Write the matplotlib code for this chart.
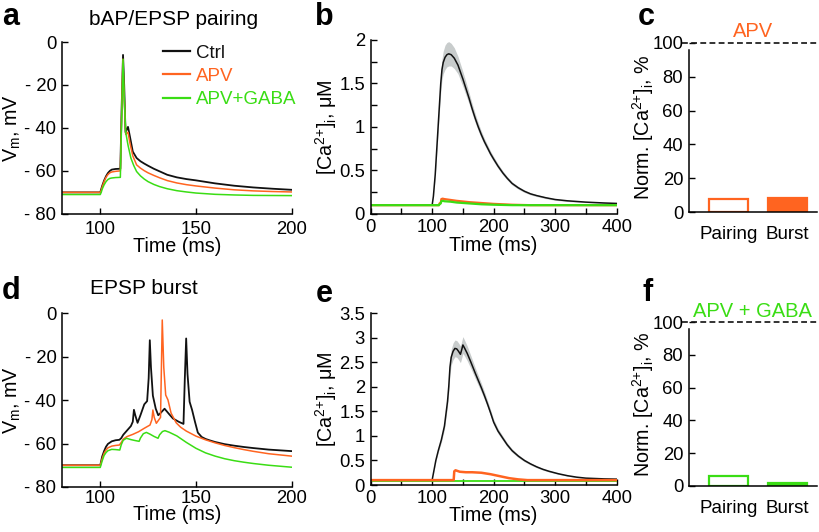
import matplotlib
matplotlib.use("Agg")
import matplotlib.pyplot as plt
from matplotlib.ticker import MultipleLocator
import numpy as np

plt.rcParams['font.family'] = ['Liberation Sans', 'DejaVu Sans']
plt.rcParams['mathtext.fontset'] = 'custom'
plt.rcParams['mathtext.rm'] = 'Liberation Sans'
plt.rcParams['mathtext.it'] = 'Liberation Sans:italic'

BLACK = '#111111'
ORANGE = '#FF6420'
GREEN = '#3ADD14'
SHADE = '#C8CCCC'

# ---- panel a: bAP/EPSP pairing, Vm (mV) ----
t_a_ctrl = [80, 100, 100.5, 101, 102, 103, 104, 105, 106, 108, 110.5, 111.2, 111.9, 112.5, 113.2, 114.5, 115.5, 117, 119,
            121, 123, 125, 128, 131, 135, 140, 145, 150, 160, 170, 180, 190, 200]
v_a_ctrl = [-70, -70, -68.5, -67, -64.5, -62.5, -61, -60, -59.4, -59.1, -59, -30, -6, -20, -42, -39.5, -44, -51, -54,
            -55.5, -56.6, -57.6, -59, -60.2, -61.8, -63, -63.8, -64.4, -65.8, -66.9, -67.7, -68.3, -68.8]
t_a_apv = [80, 100, 100.5, 101, 102, 103, 104, 105, 106, 108, 110.5, 111.2, 111.8, 112.5, 113.3, 114.5, 115.5, 117, 119,
           121, 123, 125, 128, 131, 135, 140, 145, 150, 160, 170, 180, 190, 200]
v_a_apv = [-70, -70, -69, -67.5, -65, -63, -61.7, -60.9, -60.5, -60.2, -60, -32, -8, -25, -43, -42, -47, -53, -57.2,
           -58.7, -59.9, -60.9, -62.1, -63.2, -64.5, -65.6, -66.4, -67, -68, -68.8, -69.3, -69.6, -69.8]
t_a_gaba = [80, 100, 100.5, 101, 102, 103, 104, 105, 106, 108, 110.5, 111.2, 111.9, 112.5, 113.3, 114.5, 116, 117.5, 119,
            121, 123, 125, 128, 131, 135, 140, 145, 150, 160, 170, 180, 200]
v_a_gaba = [-71, -71, -70, -68.5, -66.5, -65, -64, -63.5, -63.3, -63.1, -63, -35, -8, -25, -42, -48, -54, -57.5, -60.3,
            -62.3, -63.8, -65, -66.3, -67.3, -68.3, -69.2, -69.8, -70.3, -70.9, -71.2, -71.4, -71.5]

# ---- panel d: EPSP burst, Vm (mV) ----
t_d_ctrl = [80, 100, 100.5, 101, 102, 103, 104, 106, 108, 110, 111, 112, 114, 116, 117, 117.6, 118.3, 119.5, 121, 123,
            124.5, 125.3, 125.9, 126.5, 127.5, 129, 130.3, 131.5, 133.6, 136, 138, 141, 143.5, 144.2, 144.9, 145.6, 146.7,
            148, 149.5, 151, 153, 155, 157, 160, 165, 170, 175, 180, 188, 200]
v_d_ctrl = [-70, -70, -68, -66, -63.5, -61.5, -60.2, -59, -58.5, -58.3, -57.5, -56, -54, -52, -50, -44.5, -47, -50.5, -47, -42,
            -40.5, -30, -12.5, -25, -38, -44, -47, -46, -44, -46.5, -48.5, -50, -51, -30, -11.7, -28, -40.8,
            -44.6, -50, -55, -57, -57.9, -58.5, -59.3, -60.3, -61, -61.6, -62.1, -62.8, -63.5]
t_d_apv = [80, 100, 100.5, 101, 102, 103, 104, 106, 108, 110, 111, 112, 114, 117, 120, 123, 126, 127, 127.5, 128.2, 129.3,
           131.5, 132.4, 133.2, 134.2, 135.4, 137, 139.7, 142, 145, 150, 155, 160, 165, 170, 175, 180, 188, 200]
v_d_apv = [-70, -70, -68.5, -67, -64.5, -63, -62, -61.2, -60.9, -60.7, -59.5, -58, -56.8, -55.8, -54.6, -53, -51.5, -49, -44.6,
           -48, -50.7, -48, -3.2, -25, -37.7, -40, -46, -50.5, -52.5, -54.3, -56.6, -58.3, -59.7, -60.9, -61.9, -62.8,
           -63.6, -64.7, -65.8]
t_d_gaba = [80, 100, 100.5, 101, 102, 103, 104, 106, 108, 110.2, 111, 112, 113.7, 116, 118, 120.3, 121, 122.5, 124.1, 126,
            128, 130.2, 131, 132.5, 133.8, 136, 140, 145, 150, 155, 160, 165, 170, 175, 180, 188, 200]
v_d_gaba = [-71, -71, -69.5, -68, -65.5, -64.2, -63.3, -62.7, -62.8, -63, -60.5, -58.5, -57.6, -58.2, -58.6, -59, -57.5, -55.5,
            -54.9, -55.7, -56.7, -57.6, -56, -54.5, -54.1, -54.8, -56.5, -59.5, -62.2, -64.3, -65.8, -67, -67.9, -68.6,
            -69.2, -70, -70.9]

# ---- panel b: pairing [Ca2+]i (uM) ----
t_b_ctrl = [0, 100, 102, 105, 108, 111, 114, 116, 118, 121, 124, 127, 131, 136, 142, 150, 155, 160, 165, 170, 175, 180,
            185, 190, 195, 200, 207, 215, 222, 230, 240, 250, 260, 270, 285, 300, 320, 350, 380, 400]
c_b_ctrl = [0.1, 0.1, 0.2, 0.45, 0.8, 1.15, 1.5, 1.66, 1.74, 1.8, 1.83, 1.84, 1.83, 1.79, 1.71, 1.55, 1.44, 1.33, 1.21, 1.1,
            1.0, 0.91, 0.83, 0.76, 0.69, 0.63, 0.55, 0.47, 0.41, 0.35, 0.3, 0.26, 0.23, 0.21, 0.185, 0.165, 0.15, 0.135,
            0.125, 0.12]
sem_b_ctrl = [0, 0, 0.01, 0.03, 0.05, 0.07, 0.1, 0.12, 0.13, 0.14, 0.14, 0.14, 0.13, 0.12, 0.1, 0.085, 0.075, 0.065, 0.058,
              0.052, 0.046, 0.041, 0.037, 0.034, 0.031, 0.029, 0.026, 0.023, 0.02, 0.018, 0.016, 0.014, 0.012, 0.011,
              0.01, 0.009, 0.008, 0.006, 0.005, 0.005]
t_b_apv = [0, 111, 112, 114, 115, 117, 120, 130, 140, 160, 180, 200, 230, 260, 300, 400]
c_b_apv = [0.1, 0.1, 0.12, 0.13, 0.17, 0.175, 0.17, 0.16, 0.15, 0.135, 0.125, 0.115, 0.105, 0.1, 0.1, 0.1]
t_b_gaba = [0, 111, 112, 114, 115, 117, 120, 130, 140, 160, 180, 200, 230, 260, 300, 400]
c_b_gaba = [0.1, 0.1, 0.11, 0.12, 0.145, 0.15, 0.145, 0.14, 0.13, 0.12, 0.11, 0.105, 0.1, 0.1, 0.1, 0.1]

# ---- panel e: burst [Ca2+]i (uM) ----
t_e_ctrl = [0, 100, 103, 106, 110, 115, 120, 125, 127, 129, 131, 134, 137, 140, 143, 146, 148, 150, 153, 157, 163, 170,
            175, 180, 185, 190, 195, 200, 207, 215, 222, 230, 240, 250, 260, 270, 280, 290, 305, 320, 335, 350, 380, 400]
c_e_ctrl = [0.1, 0.1, 0.3, 0.5, 0.7, 0.92, 1.2, 1.7, 2.0, 2.4, 2.6, 2.72, 2.78, 2.77, 2.72, 2.66, 2.75, 2.85, 2.78, 2.68,
            2.5, 2.28, 2.13, 1.98, 1.82, 1.65, 1.47, 1.28, 1.1, 0.95, 0.82, 0.7, 0.59, 0.5, 0.43, 0.37, 0.32, 0.28, 0.23,
            0.19, 0.16, 0.14, 0.125, 0.12]
sem_e_ctrl = [0, 0, 0.01, 0.02, 0.03, 0.05, 0.07, 0.1, 0.12, 0.14, 0.16, 0.17, 0.17, 0.17, 0.17, 0.17, 0.17, 0.17, 0.16,
              0.15, 0.13, 0.11, 0.1, 0.09, 0.08, 0.07, 0.065, 0.06, 0.052, 0.045, 0.04, 0.035, 0.03, 0.025, 0.022, 0.02,
              0.017, 0.015, 0.012, 0.01, 0.009, 0.008, 0.006, 0.005]
t_e_apv = [0, 135, 136, 138, 145, 155, 165, 180, 195, 210, 225, 240, 255, 270, 400]
c_e_apv = [0.1, 0.1, 0.28, 0.3, 0.27, 0.26, 0.26, 0.25, 0.22, 0.18, 0.14, 0.115, 0.1, 0.1, 0.1]
t_e_gaba = [0, 135, 400]
c_e_gaba = [0.09, 0.09, 0.09]

# ---- panels c, f: normalised [Ca2+]i, % ----
cats = ['Pairing', 'Burst']
apv_norm = [7.7, 8.3]
apv_err = [0.6, 0.8]
gaba_norm = [6.3, 1.6]
gaba_err = [0.6, 0.3]

fig = plt.figure(figsize=(8.2, 5.32), dpi=100)

ax_a = fig.add_axes([0.0756, 0.598, 0.280, 0.323])
ax_b = fig.add_axes([0.452, 0.598, 0.300, 0.327])
ax_c = fig.add_axes([0.840, 0.6015, 0.156, 0.3177])
ax_d = fig.add_axes([0.0756, 0.0846, 0.280, 0.327])
ax_e = fig.add_axes([0.452, 0.0883, 0.300, 0.3233])
ax_f = fig.add_axes([0.840, 0.0865, 0.156, 0.308])

TICK_FS = 13.3
LAB_FS = 14.2
CA_LABEL = r'[Ca$^{\mathrm{2}\text{+}}$]$_\mathrm{i}$'


def style(ax, xpad=4, ypad=4):
    for s in ['top', 'right']:
        ax.spines[s].set_visible(False)
    for s in ['left', 'bottom']:
        ax.spines[s].set_linewidth(1.1)
    ax.tick_params(which='both', direction='in', length=4, width=1.0, labelsize=TICK_FS)
    ax.tick_params(axis='x', which='both', pad=xpad)
    ax.tick_params(axis='y', which='both', pad=ypad)


# voltage panels
vt = [-80, -60, -40, -20, 0]
vt_lab = ['- 80', '- 60', '- 40', '- 20', '0']
for ax, (tc, vc, tp, vp, tg, vg), xpad, xl_y in [
        (ax_a, (t_a_ctrl, v_a_ctrl, t_a_apv, v_a_apv, t_a_gaba, v_a_gaba), 5, -0.135),
        (ax_d, (t_d_ctrl, v_d_ctrl, t_d_apv, v_d_apv, t_d_gaba, v_d_gaba), 2, -0.105)]:
    ax.plot(tc, vc, color=BLACK, lw=1.3, label='Ctrl')
    ax.plot(tp, vp, color=ORANGE, lw=1.1, label='APV')
    ax.plot(tg, vg, color=GREEN, lw=1.1, label='APV+GABA')
    ax.set_xlim(80, 200)
    ax.set_ylim(-80, 0)
    ax.set_xticks([100, 150, 200])
    ax.set_yticks(vt)
    ax.set_yticklabels(vt_lab)
    style(ax, xpad=xpad)
    ax.set_xlabel('Time (ms)', fontsize=LAB_FS)
    ax.set_ylabel(r'V$_\mathrm{m}$, mV', fontsize=LAB_FS)
    ax.xaxis.set_label_coords(0.5, xl_y)
    ax.yaxis.set_label_coords(-0.17, 0.5)

leg = ax_a.legend(loc='upper left', bbox_to_anchor=(0.44, 0.985), frameon=False, fontsize=13.5,
                  handlelength=1.45, handletextpad=0.3, labelspacing=0.33, borderpad=0, borderaxespad=0,
                  labelcolor='linecolor')
for h in leg.get_lines():
    h.set_linewidth(1.6)

# calcium panels
ax_b.fill_between(t_b_ctrl, np.array(c_b_ctrl) - np.array(sem_b_ctrl), np.array(c_b_ctrl) + np.array(sem_b_ctrl),
                  color=SHADE, lw=0)
ax_b.plot(t_b_ctrl, c_b_ctrl, color=BLACK, lw=1.1)
ax_b.plot(t_b_apv, c_b_apv, color=ORANGE, lw=1.6)
ax_b.plot(t_b_gaba, c_b_gaba, color=GREEN, lw=1.6)
ax_b.set_ylim(0, 2)
ax_b.set_yticks([0, 0.5, 1, 1.5, 2])
ax_b.set_yticklabels(['0', '0.5', '1', '1.5', '2'])
ax_b.yaxis.set_minor_locator(MultipleLocator(0.25))

ax_e.fill_between(t_e_ctrl, np.array(c_e_ctrl) - np.array(sem_e_ctrl), np.array(c_e_ctrl) + np.array(sem_e_ctrl),
                  color=SHADE, lw=0)
ax_e.plot(t_e_ctrl, c_e_ctrl, color=BLACK, lw=1.1)
ax_e.plot(t_e_gaba, c_e_gaba, color=GREEN, lw=1.3)
ax_e.plot(t_e_apv, c_e_apv, color=ORANGE, lw=1.8)
ax_e.set_ylim(0, 3.5)
ax_e.set_yticks([0, 0.5, 1, 1.5, 2, 2.5, 3, 3.5])
ax_e.set_yticklabels(['0', '0.5', '1', '1.5', '2', '2.5', '3', '3.5'])

for ax, xpad, xl_y in [(ax_b, 4, -0.125), (ax_e, 3.5, -0.12)]:
    ax.set_xlim(0, 400)
    ax.set_xticks([0, 100, 200, 300, 400])
    ax.xaxis.set_minor_locator(MultipleLocator(50))
    style(ax, xpad=xpad)
    ax.set_xlabel('Time (ms)', fontsize=LAB_FS)
    ax.set_ylabel(CA_LABEL + ', μM', fontsize=LAB_FS)
    ax.xaxis.set_label_coords(0.5, xl_y)
    ax.yaxis.set_label_coords(-0.13, 0.5)

# bar panels
xpos = np.arange(1, len(cats) + 1)
for ax, vals, errs, col, ttl, ty in [(ax_c, apv_norm, apv_err, ORANGE, 'APV', 0.930),
                                      (ax_f, gaba_norm, gaba_err, GREEN, 'APV + GABA', 0.405)]:
    ax.bar(xpos[0], vals[0], width=0.66, color='white', edgecolor=col, linewidth=1.6)
    ax.bar(xpos[1], vals[1], width=0.66, color=col, edgecolor=col, linewidth=1.6)
    ax.errorbar(xpos, vals, yerr=errs, fmt='none', ecolor=col, elinewidth=1.2, capsize=0)
    ax.axhline(100, xmin=-0.05, xmax=1.0, color=BLACK, lw=1.2, ls=(0, (3.5, 2)), clip_on=False)
    ax.set_xlim(0.33, 2.5)
    ax.set_ylim(0, 100)
    ax.set_xticks(xpos)
    ax.set_xticklabels(cats)
    ax.set_yticks([0, 20, 40, 60, 80, 100])
    style(ax, xpad=10)
    ax.tick_params(axis='x', length=0, labelsize=13.5)
    ax.spines['left'].set_bounds(0, 96)
    ax.set_ylabel('Norm. ' + CA_LABEL + ', %', fontsize=LAB_FS)
    ax.yaxis.set_label_coords(-0.255, 0.5)
    fig.text(0.918, ty, ttl, color=col, fontsize=14.5, ha='center', va='baseline')

# titles and panel letters
fig.text(0.212, 0.953, 'bAP/EPSP pairing', fontsize=15, ha='center', va='baseline')
fig.text(0.176, 0.447, 'EPSP burst', fontsize=15, ha='center', va='baseline')
for x, y, s in [(0.002, 0.953, 'a'), (0.384, 0.953, 'b'), (0.778, 0.953, 'c'),
                (0.002, 0.438, 'd'), (0.385, 0.432, 'e'), (0.783, 0.434, 'f')]:
    fig.text(x, y, s, fontsize=22, fontweight='bold', ha='left', va='baseline')

fig.savefig('out.png', dpi=100)
